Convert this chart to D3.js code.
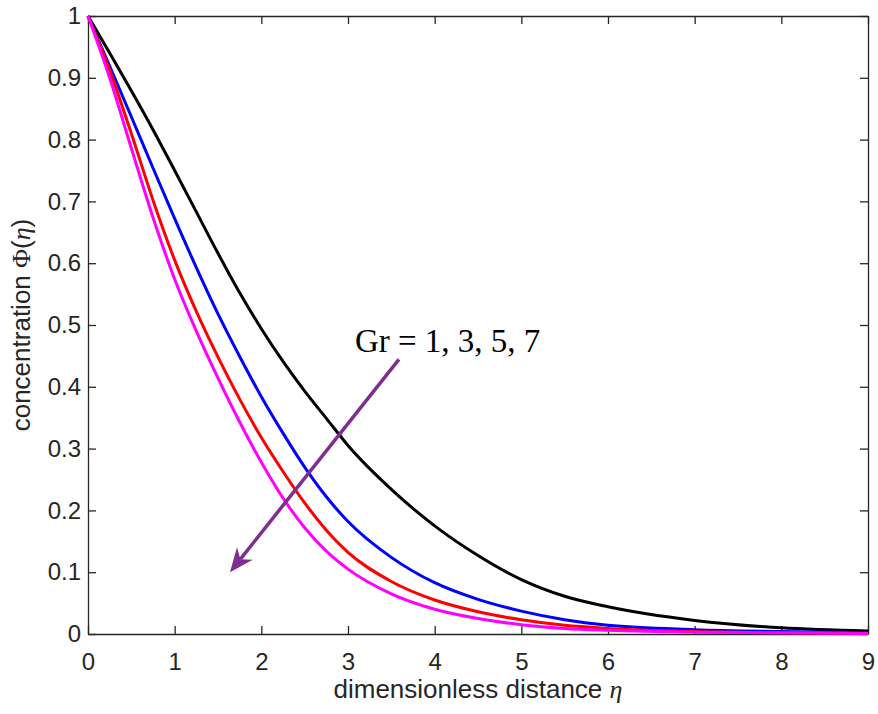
<!DOCTYPE html>
<html>
<head>
<meta charset="utf-8">
<script src="https://cdn.jsdelivr.net/npm/d3@7"></script>
<style>
  body { margin: 0; background: #fff; }
  .axis text { fill: #262626; font-family: "Liberation Sans", Arial, Helvetica, sans-serif; font-size: 24px; }
  .axis path, .axis line { stroke: #262626; stroke-width: 1.3; }
</style>
</head>
<body>
<div id="chart"></div>
<script>
// concentration profiles, one array per Grashof number
var eta    = [0, 0.25, 0.5, 0.75, 1, 1.25, 1.5, 1.75, 2, 2.25, 2.5, 2.75, 3, 3.5, 4, 4.5, 5, 5.5, 6, 7, 8, 9];
var phiGr1 = [1, 0.940, 0.879, 0.816, 0.750, 0.683, 0.616, 0.552, 0.494, 0.441, 0.393, 0.349, 0.305, 0.234, 0.175, 0.127, 0.088, 0.061, 0.044, 0.022, 0.010, 0.005];
var phiGr3 = [1, 0.919, 0.837, 0.754, 0.672, 0.593, 0.518, 0.449, 0.384, 0.325, 0.270, 0.222, 0.182, 0.124, 0.083, 0.056, 0.037, 0.023, 0.014, 0.007, 0.004, 0.002];
var phiGr5 = [1, 0.912, 0.810, 0.702, 0.605, 0.522, 0.448, 0.380, 0.318, 0.263, 0.212, 0.168, 0.132, 0.085, 0.055, 0.036, 0.023, 0.014, 0.009, 0.004, 0.002, 0.001];
var phiGr7 = [1, 0.900, 0.786, 0.674, 0.574, 0.490, 0.414, 0.343, 0.278, 0.220, 0.172, 0.134, 0.105, 0.065, 0.040, 0.025, 0.015, 0.009, 0.006, 0.003, 0.002, 0.001];

var grValues = [1, 3, 5, 7];
var seriesColors = ["#000000", "#0000ff", "#ff0000", "#ff00ff"];

var xTicks = [0, 1, 2, 3, 4, 5, 6, 7, 8, 9];
var yTicks = [0, 0.1, 0.2, 0.3, 0.4, 0.5, 0.6, 0.7, 0.8, 0.9, 1];
var yTickLabels = ["0", "0.1", "0.2", "0.3", "0.4", "0.5", "0.6", "0.7", "0.8", "0.9", "1"];

// annotation (data units)
var arrowFrom = [3.588, 0.4445],
    arrowTo = [1.638, 0.0998];
var noteText = "Gr = 1, 3, 5, 7",
    notePos = [3.08, 0.457];

var margin = {top: 16, right: 10, bottom: 80, left: 88},
    width = 878 - margin.left - margin.right,
    height = 714 - margin.top - margin.bottom;

var x = d3.scaleLinear().domain([0, 9]).range([0, width]),
    y = d3.scaleLinear().domain([0, 1]).range([height, 0]);

var svg = d3.select("#chart").append("svg")
    .attr("width", width + margin.left + margin.right)
    .attr("height", height + margin.top + margin.bottom);

var g = svg.append("g")
    .attr("transform", "translate(" + margin.left + "," + margin.top + ")");

// axes, box style with inward ticks on all four sides
g.append("g")
    .attr("class", "axis axis--x")
    .attr("transform", "translate(0," + height + ")")
    .call(d3.axisBottom(x).tickValues(xTicks).tickSizeInner(-8).tickSizeOuter(0).tickPadding(19));

g.append("g")
    .attr("class", "axis axis--y")
    .call(d3.axisLeft(y).tickValues(yTicks)
        .tickFormat(function(d, i) { return yTickLabels[i]; })
        .tickSizeInner(-8).tickSizeOuter(0).tickPadding(7));

g.append("g")
    .attr("class", "axis")
    .call(d3.axisTop(x).tickValues(xTicks).tickFormat("").tickSizeInner(-8).tickSizeOuter(0));

g.append("g")
    .attr("class", "axis")
    .attr("transform", "translate(" + width + ",0)")
    .call(d3.axisRight(y).tickValues(yTicks).tickFormat("").tickSizeInner(-8).tickSizeOuter(0));

// curves
var series = [phiGr1, phiGr3, phiGr5, phiGr7];

var line = d3.line()
    .x(function(d) { return x(d[0]); })
    .y(function(d) { return y(d[1]); })
    .curve(d3.curveMonotoneX);

g.selectAll(".profile")
    .data(series)
    .enter().append("path")
    .attr("class", "profile")
    .attr("d", function(s) { return line(eta.map(function(e, i) { return [e, s[i]]; })); })
    .attr("fill", "none")
    .attr("stroke", function(d, i) { return seriesColors[i]; })
    .attr("stroke-width", 3)
    .attr("stroke-linejoin", "round");

// arrow
var ax0 = x(arrowFrom[0]), ay0 = y(arrowFrom[1]),
    ax1 = x(arrowTo[0]), ay1 = y(arrowTo[1]);
var len = Math.sqrt((ax1 - ax0) * (ax1 - ax0) + (ay1 - ay0) * (ay1 - ay0));
var ux = (ax1 - ax0) / len, uy = (ay1 - ay0) / len;
var headL = 24, headW = 10;

g.append("line")
    .attr("x1", ax0).attr("y1", ay0)
    .attr("x2", ax1 - ux * headL * 0.7).attr("y2", ay1 - uy * headL * 0.7)
    .attr("stroke", "#7e2f8e")
    .attr("stroke-width", 3.5);

var head = [
    [ax1, ay1],
    [ax1 - ux * headL - uy * headW, ay1 - uy * headL + ux * headW],
    [ax1 - ux * headL * 0.7, ay1 - uy * headL * 0.7],
    [ax1 - ux * headL + uy * headW, ay1 - uy * headL - ux * headW]
];
g.append("polygon")
    .attr("points", head.map(function(p) { return p.join(","); }).join(" "))
    .attr("fill", "#7e2f8e");

g.append("text")
    .attr("x", x(notePos[0]))
    .attr("y", y(notePos[1]))
    .attr("font-family", "'Liberation Serif', 'Times New Roman', serif")
    .attr("font-size", 33)
    .attr("fill", "#000")
    .text(noteText);

// axis labels
var xl = svg.append("text")
    .attr("x", margin.left + width / 2)
    .attr("y", 698)
    .attr("text-anchor", "middle")
    .attr("font-family", "'Liberation Sans', Arial, sans-serif")
    .attr("font-size", 26)
    .attr("fill", "#262626");
xl.append("tspan").text("dimensionless distance ");
xl.append("tspan").attr("font-family", "'Liberation Serif', serif").attr("font-style", "italic").text("η");

var yl = svg.append("text")
    .attr("transform", "translate(30," + (margin.top + height / 2) + ") rotate(-90)")
    .attr("text-anchor", "middle")
    .attr("font-family", "'Liberation Sans', Arial, sans-serif")
    .attr("font-size", 26)
    .attr("fill", "#262626");
yl.append("tspan").text("concentration ");
yl.append("tspan").attr("font-family", "'Liberation Serif', serif").text("Φ");
yl.append("tspan").text("(");
yl.append("tspan").attr("font-family", "'Liberation Serif', serif").attr("font-style", "italic").text("η");
yl.append("tspan").text(")");
</script>
</body>
</html>
